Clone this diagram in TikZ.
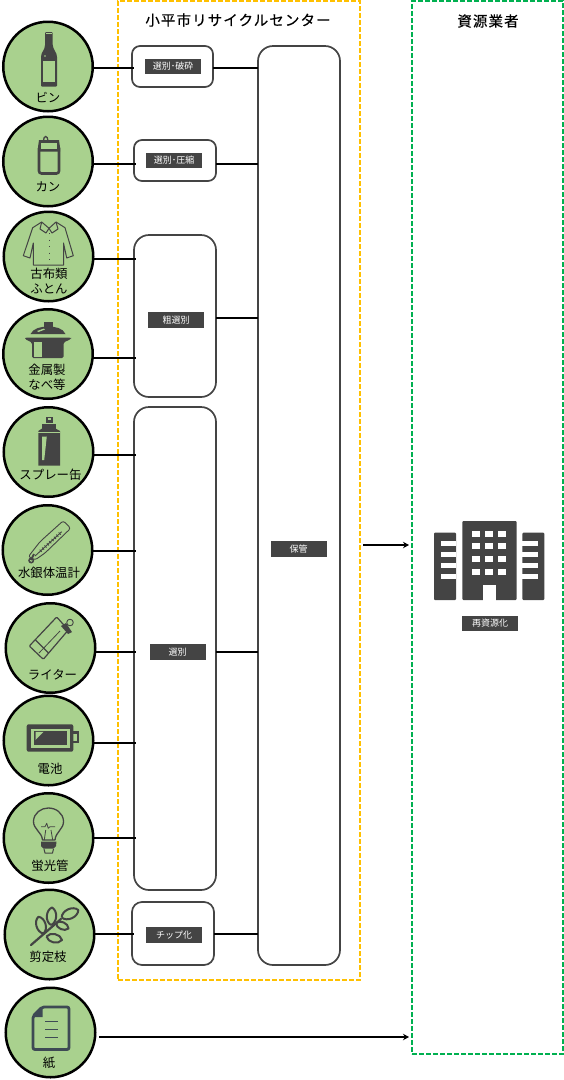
\documentclass[tikz,border=0pt]{standalone}
\usepackage{fontspec}
\usetikzlibrary{calc,arrows.meta}
\setmainfont{Noto Sans CJK JP}
\newfontfamily\titlefont[LetterSpace=7.5,FakeBold=0.4]{Noto Sans CJK JP}
\definecolor{dk}{HTML}{444444}
\definecolor{leafgreen}{HTML}{A9D18E}
\definecolor{orangeline}{HTML}{FFC000}
\definecolor{greenline}{HTML}{00B050}
\definecolor{papercol}{HTML}{3E4A54}
\tikzset{
  item/.style={circle,draw=black,line width=2.5pt,fill=leafgreen,minimum size=89.5pt,inner sep=0pt,outer sep=0pt},
  itemlabel/.style={font=\fontsize{12.4}{15}\selectfont,align=center,inner sep=0pt,text=black},
  procbox/.style={draw=dk,line width=1.7pt,fill=white,rounded corners=#1,inner sep=0pt,outer sep=0pt},
  procbox/.default=8pt,
  tag/.style={fill=dk,text=white,font=\fontsize{9}{10}\selectfont,minimum width=56pt,minimum height=15.5pt,inner sep=0pt,outer sep=0pt},
  zone/.style={line width=1.7pt,dash pattern=on 5pt off 2pt,inner sep=0pt,outer sep=0pt},
  link/.style={draw=black,line width=1.7pt},
  arrowlink/.style={link,-{Stealth[length=6pt,width=6.5pt]}},
  zonetitle/.style={font=\titlefont\fontsize{14.5}{16}\selectfont,inner sep=0pt,text=black},
  icon/.style={fill=dk,draw=none},
  iconline/.style={draw=dk,line width=1.2pt,line join=round},
  leafline/.style={draw=dk,line width=2pt,line join=round}
}
\newcommand{\feed}[3]{\draw[link] ($(#1.east)+(0,#3)$) -- ($(#1.east -| #2.west)+(2,#3)$);}
\newcommand{\onward}[2]{\draw[link] ($(#1.east)+(0,#2)$) -- ($(#1.east -| hold.west)+(0,#2)$);}
\newcommand{\leafat}[2]{\draw[leafline] (#1) to[bend left=65] (#2) to[bend left=65] (#1);}
\begin{document}
\begin{tikzpicture}[x=1pt,y=-1pt]
\useasboundingbox (0,0) rectangle (564,1080);
% zones
\node[zone,draw=orangeline,minimum width=242pt,minimum height=979pt] (center) at (239,490.5) {};
\node[zone,draw=greenline,minimum width=151pt,minimum height=1053pt] (vendor) at (487.5,527.5) {};
\node[zonetitle] (centertitle) at (238,20) {小平市リサイクルセンター};
\node[zonetitle] (vendortitle) at (488,21) {資源業者};
% items
\node[item] (c1) at (48,66.5) {};
\node[item] (c2) at (48,161.5) {};
\node[item] (c3) at (48.5,256.5) {};
\node[item] (c4) at (48,354) {};
\node[item] (c5) at (48.5,452) {};
\node[item] (c6) at (47.5,550) {};
\node[item] (c7) at (50.5,648) {};
\node[item] (c8) at (48.5,740.5) {};
\node[item] (c9) at (48.5,838) {};
\node[item] (c10) at (49.5,934.5) {};
\node[item] (c11) at (50.5,1032.5) {};
% process boxes
\node[procbox,minimum width=81pt,minimum height=41pt] (b1) at (172.5,66.5) {};
\node[procbox,minimum width=82pt,minimum height=41pt] (b2) at (175,160.5) {};
\node[procbox=15pt,minimum width=82pt,minimum height=162pt] (b3) at (175,316) {};
\node[procbox=15pt,minimum width=82pt,minimum height=483pt] (b4) at (175,648.5) {};
\node[procbox=10pt,minimum width=82pt,minimum height=63pt] (b5) at (173,933.5) {};
\node[procbox=15pt,minimum width=82pt,minimum height=919pt] (hold) at (299,505.5) {};
% connectors
\feed{c1}{b1}{1.5}
\feed{c2}{b2}{2.5}
\feed{c3}{b3}{2.5}
\feed{c4}{b3}{4}
\feed{c5}{b4}{3.3}
\feed{c6}{b4}{1}
\feed{c7}{b4}{4}
\feed{c8}{b4}{2.5}
\feed{c9}{b4}{0}
\feed{c10}{b5}{-0.5}
\onward{b1}{1.5}
\onward{b2}{3.5}
\onward{b3}{2}
\onward{b4}{3.5}
\onward{b5}{0.5}
\draw[arrowlink] ($(hold.east)+(23,39.5)$) -- ($(hold.east -| vendor.west)+(-3,39.5)$);
\draw[arrowlink] ($(c11.east)+(4,4.5)$) -- ($(c11.east -| vendor.west)+(-3,4.5)$);
% tags
\node[tag] (t1) at (173,66.5) {選別･破砕};
\node[tag] (t2) at (174,160.5) {選別･圧縮};
\node[tag] (t3) at (176,320) {粗選別};
\node[tag] (t4) at (177.5,652) {選別};
\node[tag] (t5) at (174,935) {チップ化};
\node[tag] (t6) at (298.5,549) {保管};
\node[tag] (t7) at (490,623.5) {再資源化};
% item labels
\node[itemlabel] (l1) at (48,98) {ビン};
\node[itemlabel] (l2) at (48,187) {カン};
\node[itemlabel] (l3) at (49,281.5) {古布類\\ふとん};
\node[itemlabel] (l4) at (47,377.5) {金属製\\なべ等};
\node[itemlabel] (l5) at (50.5,475) {スプレー缶};
\node[itemlabel] (l6) at (49,573) {水銀体温計};
\node[itemlabel] (l7) at (52.5,675) {ライター};
\node[itemlabel] (l8) at (50,769) {電池};
\node[itemlabel] (l9) at (50,866) {蛍光管};
\node[itemlabel] (l10) at (48,957) {剪定枝};
\node[itemlabel] (l11) at (49,1063) {紙};
% bottle
\fill[icon,rounded corners=1pt] (45,32) -- (52.7,32) -- (52.7,44) .. controls (53,50) and (57,52) .. (57,58) -- (57,86.7) -- (41,86.7) -- (41,58) .. controls (41,52) and (45,50) .. (45,44) -- cycle;
\fill[leafgreen] (42.8,61) rectangle (55.2,81.5);
\fill[leafgreen] (45.7,33) rectangle (52,34.2);
\fill[leafgreen] (45,56) circle (0.9);
% can
\draw[draw=dk,line width=2.6pt,rounded corners=2.5pt] (39,146) rectangle (59,173.5);
\fill[icon] (39,140) -- (59,140) -- (60,147) -- (60,151.5) -- (38,151.5) -- (38,147) -- cycle;
\fill[leafgreen] (41,143) -- (57,143) -- (57,148.5) -- (41,148.5) -- cycle;
\draw[draw=dk,line width=1.3pt] (43.5,140.5) arc (180:360:2.2 and 4);
% shirt
\draw[iconline,line width=1pt] (41.7,222) -- (32.7,227.7) -- (23.3,255.7) -- (30,258) -- (33.3,243) -- (33.3,265) -- (63.5,265) -- (63.5,243) -- (66.7,258) -- (73.3,255.7) -- (65,227.7) -- (56,222) -- (49,228.3) -- cycle;
\draw[iconline,line width=1pt] (41.7,222) -- (40,229) -- (46,233) -- (49,228.3) -- (52,233) -- (58,229) -- (56,222);
\draw[iconline,line width=1pt,dash pattern=on 1pt off 5.5pt] (49,233) -- (49,265);
% pot
\fill[icon] (44.3,322.3) rectangle (52.7,327);
\fill[icon] (30.5,334) .. controls (33,328) and (42,326.5) .. (48,326.5) .. controls (55,326.5) and (63,328) .. (65.5,334) -- cycle;
\fill[leafgreen] (37,331) -- (44,328.5) -- (45,329.5) -- (38.5,332) -- cycle;
\fill[icon,rounded corners=1.5pt] (25,337.5) -- (71,337.5) -- (71,339) -- (63.5,342.5) -- (63.5,358) -- (32,358) -- (32,342.5) -- (25,339) -- cycle;
\fill[leafgreen] (33.5,342) rectangle (41.5,356.8);
% spray
\fill[icon] (46,416.7) rectangle (52.7,422.7);
\fill[leafgreen] (48,418) rectangle (51,420);
\fill[icon] (42,424) rectangle (55.5,428.5);
\fill[icon] (42,428.5) -- (55.5,428.5) -- (60,431) -- (60,465.5) -- (38.3,465.5) -- (38.3,431) -- cycle;
\fill[leafgreen] (38.3,431.5) rectangle (60,432.7);
\fill[leafgreen] (42,436.5) -- (46.8,436.5) -- (44.2,460) -- (42,460) -- cycle;
% thermometer
\draw[iconline,line width=0.9pt,rounded corners=2.5pt] (63.3,520.7) -- (70.7,528.3) -- (45,553) -- (35,560) -- (28.3,556.7) -- (40,541.7) -- cycle;
\draw[iconline,line width=0.9pt] (61.7,531.7) -- (35,556);
\draw[iconline,line width=3pt,dash pattern=on 0.8pt off 2.4pt] (60,533.3) -- (40,551.4);
\fill[icon] (31.2,560.5) circle (3);
\fill[leafgreen] (31.2,560.5) circle (1.3);
\draw[draw=dk,line width=2pt] (34,554) -- (31,560);
% lighter
\draw[iconline,line width=1.2pt,rounded corners=1pt] (56.7,617) -- (68.3,630) -- (43.3,659.3) -- (29.3,646) -- cycle;
\draw[iconline,line width=0.8pt] (60,631) -- (39,653);
\draw[iconline,line width=1.2pt] (35.5,640) -- (48.5,653);
\fill[icon] (61,626) -- (66,623) -- (72,632) -- (68,634) -- cycle;
\draw[iconline,line width=0.9pt] (70,622.5) circle (3.3);
% battery
\fill[icon,rounded corners=2pt] (26.7,724.3) rectangle (73.3,751.7);
\fill[leafgreen] (31,728.5) rectangle (69.5,747.5);
\fill[icon] (34,730.7) rectangle (67,745.3);
\fill[leafgreen] (35.5,731.8) -- (43.5,731.8) -- (35.5,740) -- cycle;
\draw[draw=dk,line width=2.2pt] (73.3,732.5) -- (78,732.5) -- (78,742) -- (73.3,742);
% bulb
\draw[iconline,line width=1.3pt] (42.5,840) .. controls (42,832) and (33,829) .. (33.5,821) .. controls (34,813) and (41,808) .. (48.3,808) .. controls (56,808) and (63,813) .. (63.5,821) .. controls (64,829) and (55.5,832) .. (55,840) -- cycle;
\fill[icon] (41,841.5) -- (56.5,841.5) -- (56,846) -- (53.5,848.5) -- (43.5,848.5) -- (41,846) -- cycle;
\draw[iconline,line width=1pt] (44,849) -- (45,853) -- (52.5,853) -- (53.5,849);
\draw[iconline,line width=0.8pt] (41,826.7) -- (45,826.7) -- (46.7,823.3) -- (48.3,828.3) -- (50,826.7) -- (55,826.7);
\draw[iconline,line width=0.8pt] (45.7,830) -- (44.3,840) (51,830) -- (52.7,840);
% branch
\draw[leafline,line width=2.2pt,line cap=round] (31,945) -- (61,919);
\leafat{61.7,917.5}{78.3,910}
\leafat{51,925}{52,907.5}
\leafat{56,923}{68.5,928.5}
\leafat{43.5,933.5}{38.5,916.7}
\leafat{46.5,936.5}{62,940}
% paper
\draw[draw=papercol,line width=2.8pt,rounded corners=2pt] (42,1007) -- (69,1007) -- (69,1049.5) -- (33,1049.5) -- (33,1016) -- cycle;
\fill[papercol] (33,1017) -- (42.5,1007.5) -- (42.5,1017) -- cycle;
\draw[draw=papercol,line width=1.3pt] (45,1021.7) -- (58.3,1021.7) (45,1029.3) -- (58.3,1029.3) (45,1037.3) -- (58.3,1037.3);
% building
\fill[icon,rounded corners=1pt] (462.3,521) rectangle (516.7,600);
\foreach \wx in {472.3,485,498.3}
  \foreach \wy in {530.7,543.3,556,569.3}
    \fill[white] (\wx,\wy) rectangle +(7.7,6);
\fill[white] (483.3,585) rectangle (495.7,600.5);
\fill[icon,rounded corners=1pt] (434,532.7) rectangle (456,600);
\fill[icon,rounded corners=1pt] (522.3,532.7) rectangle (544.3,600);
\foreach \wy in {540.7,551.7,562.7,574}{
  \fill[white] (440.7,\wy) rectangle +(15.5,5.4);
  \fill[white] (522,\wy) rectangle +(15.7,5.4);
}
\end{tikzpicture}
\end{document}
